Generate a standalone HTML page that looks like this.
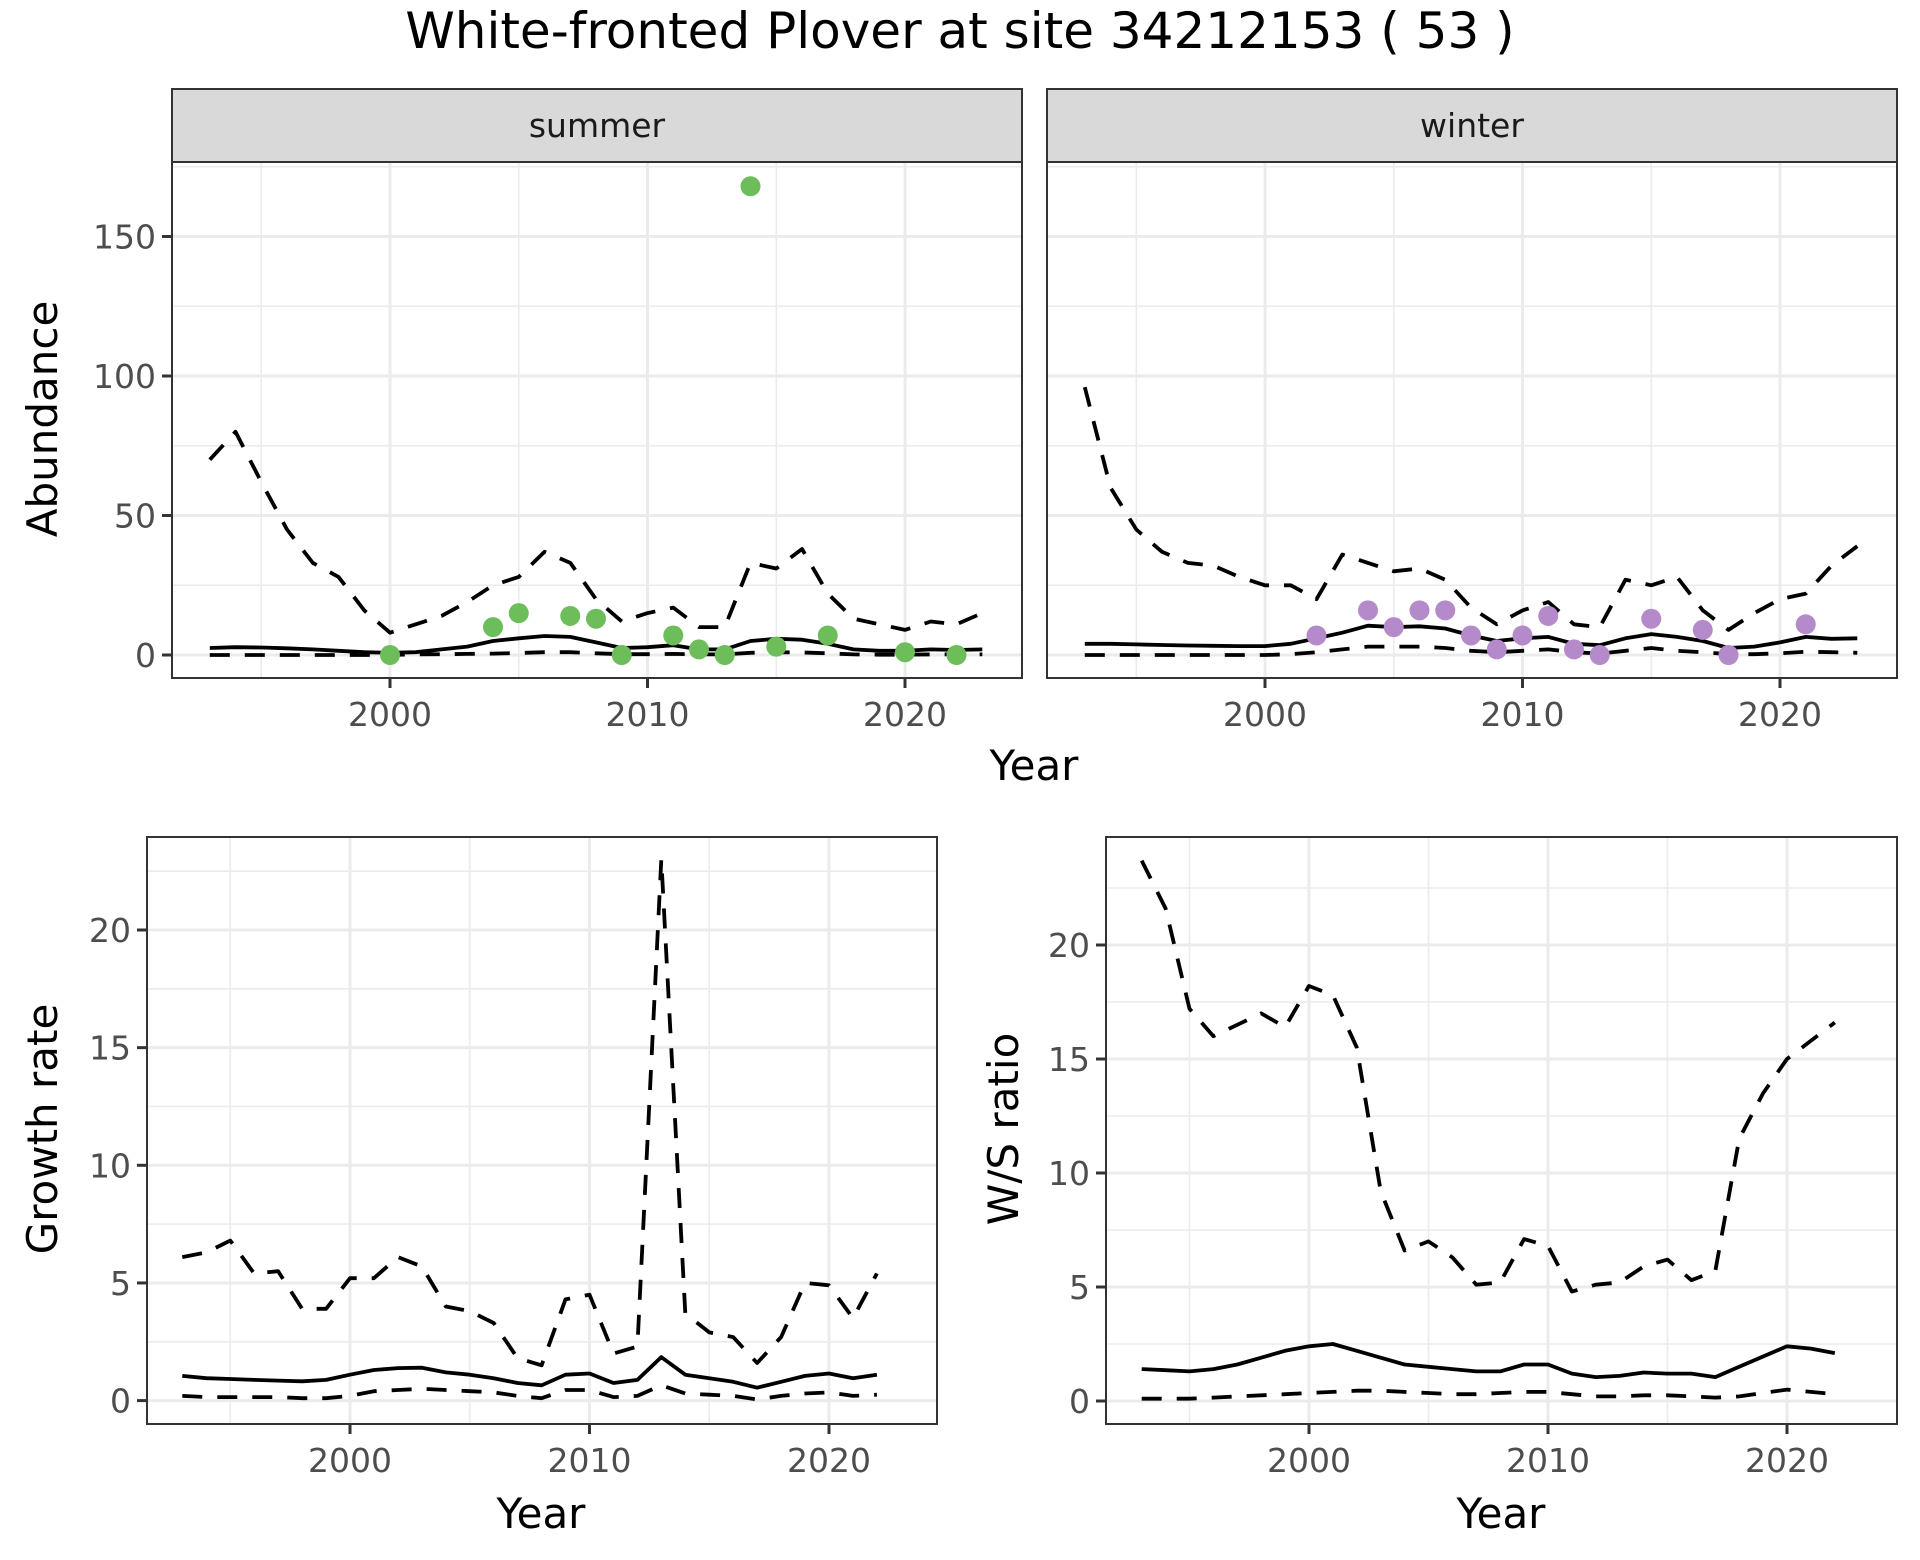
<!DOCTYPE html>
<html><head><meta charset="utf-8"><style>html,body{margin:0;padding:0;background:#fff}svg{display:block}</style></head>
<body>
<svg id="s" xmlns="http://www.w3.org/2000/svg" width="1920" height="1560" viewBox="0 0 1920 1560" font-family="DejaVu Sans, Liberation Sans, sans-serif"></svg>
<script>
const S=document.getElementById('s');let h='';
h+='<rect width="1920" height="1560" fill="#fff"/>';
h+='<text x="960" y="48" font-size="50" text-anchor="middle" fill="#000">White-fronted Plover at site 34212153 ( 53 )</text>';
function yrs(a,b){let r=[];for(let i=a;i<=b;i++)r.push(i);return r;}
function panel(o){
 const {x0,x1,y0,y1,xf,yf,ymaj,ymin,xmaj,xmin}=o;
 h+=`<rect x="${x0}" y="${y0}" width="${x1-x0}" height="${y1-y0}" fill="#fff"/>`;
 ymin.forEach(v=>h+=`<line x1="${x0}" x2="${x1}" y1="${yf(v)}" y2="${yf(v)}" stroke="#ebebeb" stroke-width="1.6"/>`);
 xmin.forEach(v=>h+=`<line y1="${y0}" y2="${y1}" x1="${xf(v)}" x2="${xf(v)}" stroke="#ebebeb" stroke-width="1.6"/>`);
 ymaj.forEach(v=>h+=`<line x1="${x0}" x2="${x1}" y1="${yf(v)}" y2="${yf(v)}" stroke="#ebebeb" stroke-width="3"/>`);
 xmaj.forEach(v=>h+=`<line y1="${y0}" y2="${y1}" x1="${xf(v)}" x2="${xf(v)}" stroke="#ebebeb" stroke-width="3"/>`);
}
function frame(o,ylab,xlab){
 const {x0,x1,y0,y1,xf,yf,ymaj,xmaj}=o;
 h+=`<rect x="${x0}" y="${y0}" width="${x1-x0}" height="${y1-y0}" fill="none" stroke="#333" stroke-width="2"/>`;
 if(ylab){ymaj.forEach(v=>{h+=`<line x1="${x0-10}" x2="${x0}" y1="${yf(v)}" y2="${yf(v)}" stroke="#333" stroke-width="3"/>`;
  h+=`<text x="${x0-16}" y="${yf(v)+12}" font-size="33" fill="#4d4d4d" text-anchor="end">${v}</text>`;});}
 if(xlab){xmaj.forEach(v=>{h+=`<line y1="${y1}" y2="${y1+10}" x1="${xf(v)}" x2="${xf(v)}" stroke="#333" stroke-width="3"/>`;
  h+=`<text x="${xf(v)}" y="${y1+48}" font-size="33" fill="#4d4d4d" text-anchor="middle">${v}</text>`;});}
}
function line(xf,yf,xs,vs,dash){
 let p=xs.map((x,i)=>xf(x).toFixed(1)+','+yf(vs[i]).toFixed(1)).join(' ');
 h+=`<polyline points="${p}" fill="none" stroke="#000" stroke-width="3.8" ${dash?'stroke-dasharray="20,15"':''} stroke-linejoin="round"/>`;
}
function pts(xf,yf,d,c){d.forEach(([x,v])=>h+=`<circle cx="${xf(x)}" cy="${yf(v)}" r="10" fill="${c}"/>`);}
const T=yrs(1993,2023);
const yT=v=>655-2.79*v;
const sUp=[70,80,62,45,33,28,16,8,11,14,19,25,28,37,33,20,12,15,17,10,10,33,31,38,22,13,11,9,12,11,15];
const sMe=[2.5,2.8,2.7,2.4,2,1.5,1,0.8,1,2,3,5,6,6.8,6.5,4.5,2.5,2.8,3.5,2,2,5,5.8,5.5,4,2,1.5,1.5,2,1.8,2];
const sLo=[0,0,0,0,0,0,0,0,0.2,0.3,0.4,0.5,0.7,1,1,0.6,0.3,0.3,0.4,0.2,0.2,0.8,1,0.9,0.6,0.2,0.1,0.1,0.2,0.2,0.2];
const wUp=[96,60,45,37,33,32,28,25,25,20,36,33,30,31,27,17,11,16,19,11,10,27,25,28,16,9,15,20,22,32,39];
const wMe=[4,4,3.8,3.6,3.4,3.3,3.2,3.2,4,6,8,10.5,10,10.3,9.5,7,5,6,6.5,4,3.5,6,7.5,6.5,5,2.5,3,4.5,6.5,5.8,6];
const wLo=[0,0,0,0,0,0,0,0,0.3,1,2,3,3,3,2.5,1.5,1,1.5,2,1,0.5,1.5,2.5,1.5,1,0.3,0.3,0.6,1.2,1,0.8];
[[172,1022,sUp,sMe,sLo,'summer',[[2000,0],[2004,10],[2005,15],[2007,14],[2008,13],[2009,0],[2011,7],[2012,2],[2013,0],[2014,168],[2015,3],[2017,7],[2020,1],[2022,0]],'#6dbd5a'],
 [1047,1897,wUp,wMe,wLo,'winter',[[2002,7],[2004,16],[2005,10],[2006,16],[2007,16],[2008,7],[2009,2],[2010,7],[2011,14],[2012,2],[2013,0],[2015,13],[2017,9],[2018,0],[2021,11]],'#b48acb']
].forEach(([x0,x1,up,me,lo,lab,P,c],k)=>{
 const xf=v=>x0+218+(v-2000)*25.75;
 const o={x0,x1,y0:162,y1:678,xf,yf:yT,ymaj:[0,50,100,150],ymin:[25,75,125,175],xmaj:[2000,2010,2020],xmin:[1995,2005,2015]};
 panel(o);line(xf,yT,T,up,1);line(xf,yT,T,lo,1);line(xf,yT,T,me,0);pts(xf,yT,P,c);
 frame(o,k==0,1);
 h+=`<rect x="${x0}" y="89" width="${x1-x0}" height="73" fill="#d9d9d9" stroke="#333" stroke-width="2"/>`;
 h+=`<text x="${(x0+x1)/2}" y="137" font-size="33" fill="#1a1a1a" text-anchor="middle">${lab}</text>`;
});
h+='<text x="1034" y="780" font-size="42" text-anchor="middle">Year</text>';
h+='<text transform="translate(57,419) rotate(-90)" font-size="42" text-anchor="middle">Abundance</text>';
const B=yrs(1993,2022);
const gUp=[6.1,6.3,6.8,5.4,5.5,3.9,3.9,5.2,5.2,6.1,5.7,4.0,3.8,3.3,1.8,1.5,4.3,4.5,2.0,2.3,23,3.7,2.9,2.7,1.6,2.7,5.0,4.9,3.5,5.4];
const gMe=[1.05,0.95,0.92,0.88,0.85,0.82,0.88,1.1,1.3,1.38,1.4,1.2,1.1,0.95,0.75,0.65,1.1,1.15,0.75,0.88,1.85,1.1,0.95,0.8,0.55,0.8,1.05,1.15,0.95,1.1];
const gLo=[0.2,0.15,0.15,0.15,0.15,0.1,0.1,0.2,0.4,0.45,0.5,0.45,0.4,0.35,0.2,0.1,0.45,0.45,0.15,0.2,0.65,0.3,0.25,0.2,0.05,0.2,0.3,0.35,0.2,0.25];
const rUp=[23.7,21.6,17.2,16.0,16.5,17.0,16.4,18.2,17.8,15.5,9.2,6.6,7.0,6.3,5.1,5.2,7.1,6.8,4.8,5.1,5.2,5.9,6.2,5.3,5.7,11.5,13.5,15.0,15.8,16.6];
const rMe=[1.4,1.35,1.3,1.4,1.6,1.9,2.2,2.4,2.5,2.2,1.9,1.6,1.5,1.4,1.3,1.3,1.6,1.6,1.2,1.05,1.1,1.25,1.2,1.2,1.05,1.5,1.95,2.4,2.3,2.1];
const rLo=[0.1,0.1,0.1,0.15,0.2,0.25,0.3,0.35,0.4,0.45,0.45,0.4,0.35,0.3,0.3,0.35,0.4,0.4,0.3,0.2,0.2,0.25,0.25,0.2,0.15,0.2,0.35,0.5,0.4,0.3];
{
 const xf=v=>350+(v-2000)*23.95, yf=v=>1400.6-23.53*v;
 const o={x0:147,x1:937,y0:837,y1:1424,xf,yf,ymaj:[0,5,10,15,20],ymin:[2.5,7.5,12.5,17.5,22.5],xmaj:[2000,2010,2020],xmin:[1995,2005,2015]};
 panel(o);line(xf,yf,B,gUp,1);line(xf,yf,B,gLo,1);line(xf,yf,B,gMe,0);frame(o,1,1);
 h+='<text x="541" y="1528" font-size="42" text-anchor="middle">Year</text>';
 h+='<text transform="translate(57,1129) rotate(-90)" font-size="42" text-anchor="middle">Growth rate</text>';
}
{
 const xf=v=>1309+(v-2000)*23.9, yf=v=>1401-22.8*v;
 const o={x0:1106,x1:1897,y0:837,y1:1424,xf,yf,ymaj:[0,5,10,15,20],ymin:[2.5,7.5,12.5,17.5,22.5],xmaj:[2000,2010,2020],xmin:[1995,2005,2015]};
 panel(o);line(xf,yf,B,rUp,1);line(xf,yf,B,rLo,1);line(xf,yf,B,rMe,0);frame(o,1,1);
 h+='<text x="1501" y="1528" font-size="42" text-anchor="middle">Year</text>';
 h+='<text transform="translate(1018,1129) rotate(-90)" font-size="42" text-anchor="middle">W/S ratio</text>';
}
S.innerHTML=h;
</script>
</body></html>
